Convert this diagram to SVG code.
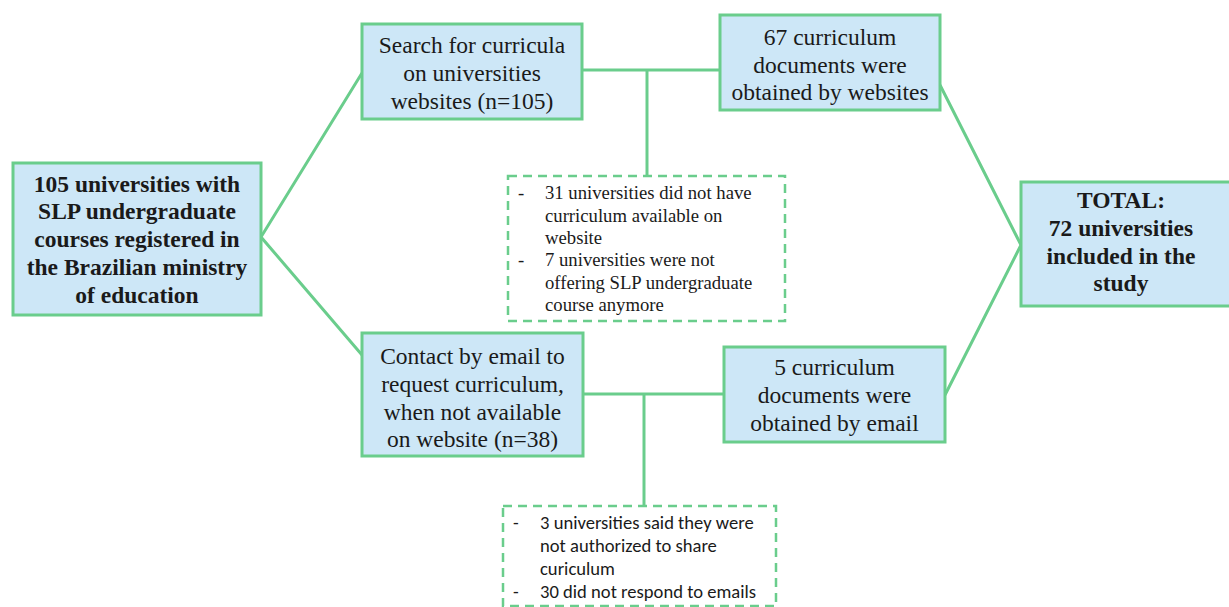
<svg xmlns="http://www.w3.org/2000/svg" width="1229" height="607" viewBox="0 0 1229 607">
<style>
.box{fill:#cde7f7;stroke:#6acd8c;stroke-width:3}
.dash{fill:#ffffff;stroke:#6acd8c;stroke-width:2.5;stroke-dasharray:9 6}
.ln{stroke:#6acd8c;stroke-width:3;fill:none}
.t{font-family:"Liberation Serif","Times New Roman",serif;font-size:23.5px;fill:#1a1a1a;text-anchor:middle}
.b{font-weight:bold}
.s{font-family:"Liberation Serif","Times New Roman",serif;font-size:18.7px;fill:#1a1a1a}
.c{font-family:Carlito,Lato,"Open Sans",sans-serif;font-size:18.6px;fill:#1a1a1a}
</style>
<rect width="1229" height="607" fill="#ffffff"/>
<g id="connectors">
<polyline class="ln" points="362,73 261,237 362,355"/>
<line class="ln" x1="582" y1="70" x2="720" y2="70"/>
<line class="ln" x1="647" y1="70" x2="647" y2="176"/>
<line class="ln" x1="583" y1="394" x2="724" y2="394"/>
<line class="ln" x1="644" y1="394" x2="644" y2="506"/>
<polyline class="ln" points="940,85 1021,245 945,395"/>
</g>
<g id="n-universities">
<rect class="box" x="13" y="163" width="248" height="152"/>
<text class="t b" x="137"><tspan x="137" y="192">105 universities with</tspan><tspan x="137" y="219">SLP undergraduate</tspan><tspan x="137" y="247">courses registered in</tspan><tspan x="137" y="275">the Brazilian ministry</tspan><tspan x="137" y="303">of education</tspan></text>
</g>
<g id="n-search">
<rect class="box" x="362" y="24" width="220" height="95"/>
<text class="t"><tspan x="472" y="53">Search for curricula</tspan><tspan x="472" y="81">on universities</tspan><tspan x="472" y="109">websites (n=105)</tspan></text>
</g>
<g id="n-websites">
<rect class="box" x="720" y="15" width="220" height="95"/>
<text class="t"><tspan x="830" y="45">67 curriculum</tspan><tspan x="830" y="73">documents were</tspan><tspan x="830" y="100">obtained by websites</tspan></text>
</g>
<g id="n-excluded1">
<rect class="dash" x="508" y="176" width="277" height="145"/>
<text class="s"><tspan x="518" y="199">-</tspan><tspan x="545" y="199">31 universities did not have</tspan><tspan x="545" y="221.5">curriculum available on</tspan><tspan x="545" y="243.5">website</tspan><tspan x="518" y="266">-</tspan><tspan x="545" y="266">7 universities were not</tspan><tspan x="545" y="288.5">offering SLP undergraduate</tspan><tspan x="545" y="310.5">course anymore</tspan></text>
</g>
<g id="n-contact">
<rect class="box" x="362" y="333" width="221" height="123"/>
<text class="t"><tspan x="472.5" y="364">Contact by email to</tspan><tspan x="472.5" y="392">request curriculum,</tspan><tspan x="472.5" y="420">when not available</tspan><tspan x="472.5" y="447">on website (n=38)</tspan></text>
</g>
<g id="n-email">
<rect class="box" x="724" y="347" width="221" height="95"/>
<text class="t"><tspan x="834.5" y="375">5 curriculum</tspan><tspan x="834.5" y="403">documents were</tspan><tspan x="834.5" y="431">obtained by email</tspan></text>
</g>
<g id="n-excluded2">
<rect class="dash" x="503" y="506" width="273" height="100"/>
<text class="c"><tspan x="513" y="529">-</tspan><tspan x="540" y="529">3 universities said they were</tspan><tspan x="540" y="552">not authorized to share</tspan><tspan x="540" y="575">curiculum</tspan><tspan x="513" y="598">-</tspan><tspan x="540" y="598">30 did not respond to emails</tspan></text>
</g>
<g id="n-total">
<rect class="box" x="1021" y="182" width="215" height="124"/>
<text class="t b"><tspan x="1121" y="208">TOTAL:</tspan><tspan x="1121" y="236">72 universities</tspan><tspan x="1121" y="264">included in the</tspan><tspan x="1121" y="291">study</tspan></text>
</g>
</svg>
